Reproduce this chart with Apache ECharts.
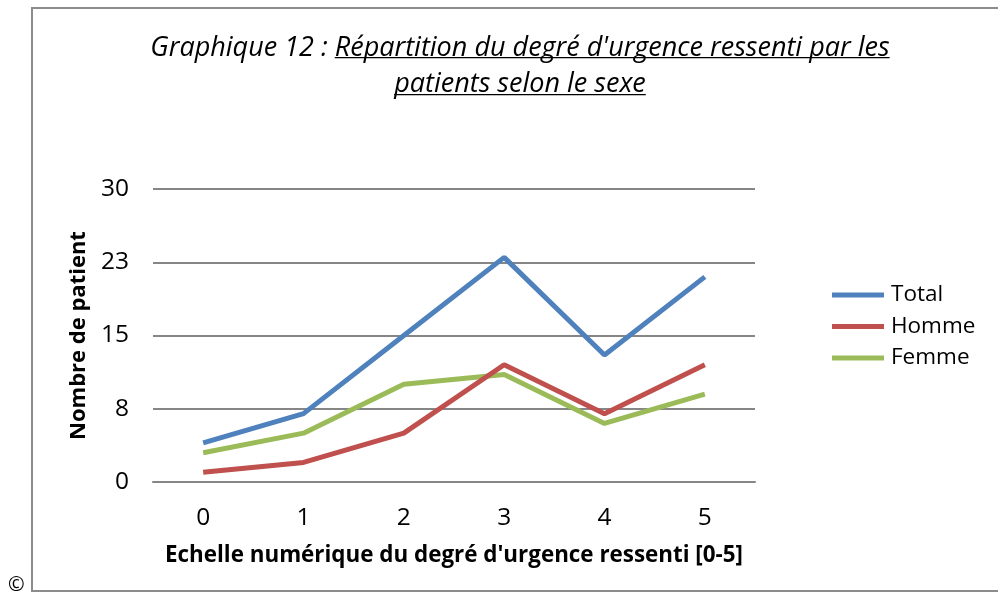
<!DOCTYPE html>
<html><head><meta charset="utf-8">
<script src="https://cdn.jsdelivr.net/npm/echarts@6/dist/echarts.min.js"></script>
<style>html,body{margin:0;padding:0;background:#fff}#c{width:998px;height:593px}</style>
</head><body><div id="c"></div>
<script>
const categories = ['0','1','2','3','4','5'];
const total = [4, 7, 15, 23, 13, 21];
const homme = [1, 2, 5, 12, 7, 12];
const femme = [3, 5, 10, 11, 6, 9];
const yTicks = [0, 7.5, 15, 22.5, 30];

const FONT = 'Open Sans';
const colors = ['#4F81BD','#C0504D','#9BBB59'];

function render(){
  const chart = echarts.init(document.getElementById('c'), null, {renderer:'canvas'});
  const ctx = document.createElement('canvas').getContext('2d');
  function tw(t, f){ ctx.font = f; return ctx.measureText(t).width; }
  const TS = 27;
  const tFont = 'italic normal ' + TS + 'px "' + FONT + '"';
  const l1a = 'Graphique 12 : ', l1b = "Répartition du degré d'urgence ressenti par les";
  const l2 = 'patients selon le sexe';
  const cx = 520;
  const w1a = tw(l1a, tFont), w1b = tw(l1b, tFont), w2 = tw(l2, tFont);
  const x1 = cx - (w1a + w1b)/2;

  function ser(name, data, i){
    return {name, type:'line', data, symbol:'none', lineStyle:{width:5, color:colors[i]}, itemStyle:{color:colors[i]}, z:5 - i};
  }
  const rs = {fontFamily:FONT, fontStyle:'italic', fontWeight:'normal', fontSize:TS, color:'#000', lineHeight:36};

  chart.setOption({
    animation:false,
    color: colors,
    textStyle:{fontFamily:FONT},
    title:{
      text:'{a|' + l1a + '}{b|' + l1b + '}\n{b|' + l2 + '}',
      left: cx, top: 30, textAlign:'center', padding:0,
      textStyle:{fontWeight:'normal', fontStyle:'italic', fontSize:TS, fontFamily:FONT, rich:{a:rs, b:rs}}
    },
    grid:{left:153, right:243, top:189, bottom:111, containLabel:false},
    legend:{
      orient:'vertical', left:832, top:283, padding:0, icon:'rect', itemWidth:52, itemHeight:5, itemGap:7.5,
      textStyle:{fontFamily:FONT, fontSize:22.5, color:'#000', padding:[0,0,0,2], lineHeight:24},
      data:['Total','Homme','Femme']
    },
    xAxis:{
      type:'category', data:categories, boundaryGap:true,
      name:"Echelle numérique du degré d'urgence ressenti [0-5]", nameLocation:'middle', nameGap:63,
      nameTextStyle:{fontFamily:FONT, fontWeight:'bold', fontSize:22.4, color:'#000'},
      axisLine:{show:true, lineStyle:{color:'#868686', width:2}},
      axisTick:{show:false},
      axisLabel:{fontFamily:FONT, fontSize:24.5, color:'#000', margin:24}
    },
    yAxis:{
      type:'value', min:0, max:30, interval:7.5,
      name:'Nombre de patient', nameLocation:'middle', nameGap:59, nameRotate:90,
      nameTextStyle:{fontFamily:FONT, fontWeight:'bold', fontSize:22, color:'#000'},
      axisLine:{show:false}, axisTick:{show:false},
      splitLine:{lineStyle:{color:'#868686', width:2}},
      axisLabel:{fontFamily:FONT, fontSize:24.5, color:'#000', margin:24, formatter:v=>String(Math.round(v))}
    },
    graphic:[
      {type:'rect', shape:{x:32, y:8, width:1000, height:583}, style:{fill:'none', stroke:'#8c8c8c', lineWidth:2}, silent:true, z:-1},
      {type:'text', left:8, top:575, style:{text:'©', fontFamily:FONT, fontSize:20, fill:'#000'}},
      {type:'rect', shape:{x:x1 + w1a, y:57, width:w1b, height:1.3}, style:{fill:'#000'}},
      {type:'rect', shape:{x:cx - w2/2, y:94, width:w2, height:1.3}, style:{fill:'#000'}}
    ],
    series:[ser('Total', total, 0), ser('Homme', homme, 1), ser('Femme', femme, 2)]
  });
}
Promise.all([
  document.fonts.load('italic 27px "Open Sans"'),
  document.fonts.load('bold 22px "Open Sans"'),
  document.fonts.load('22px "Open Sans"')
]).then(render, render);
</script></body></html>
